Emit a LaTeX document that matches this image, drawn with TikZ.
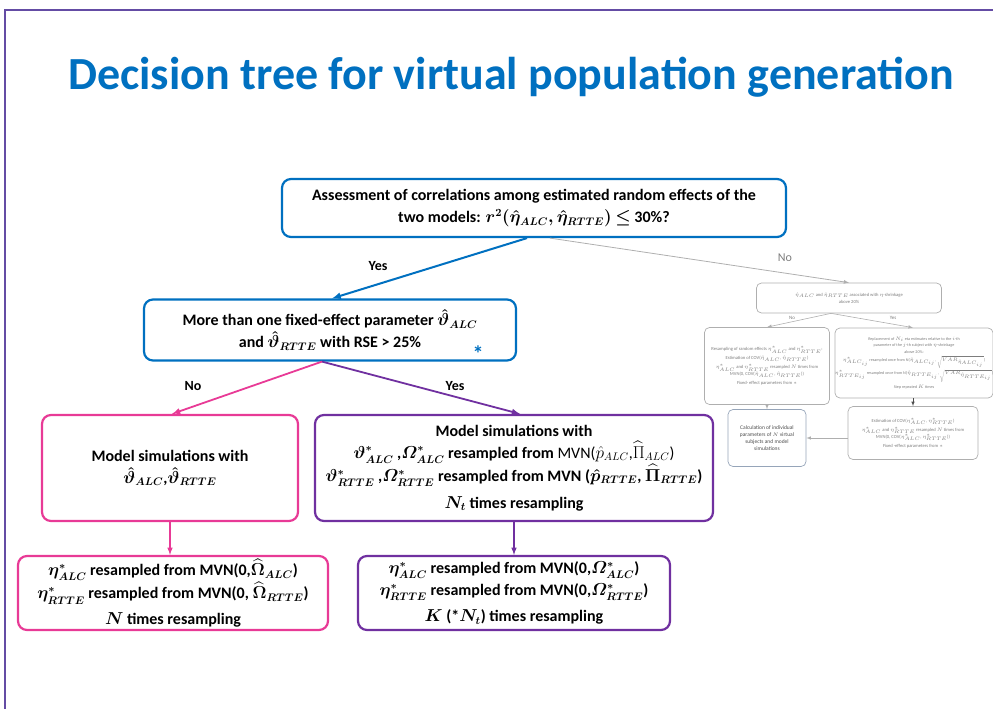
\documentclass[tikz,border=0pt]{standalone}
\usepackage{amsmath}
\usepackage{fontspec}
\setmainfont{Carlito}

\definecolor{titleblue}{RGB}{0,112,192}
\definecolor{simpink}{RGB}{232,58,150}
\definecolor{simpurple}{RGB}{112,48,160}
\definecolor{framepurple}{RGB}{100,76,164}
\definecolor{greyline}{RGB}{175,175,175}
\definecolor{greytext}{RGB}{125,125,125}
\definecolor{calcline}{RGB}{150,165,185}

\tikzset{
  bigbox/.style={draw,rounded corners=9pt,line width=2.2pt,align=center,inner sep=0pt,
    font=\fontsize{16}{22}\selectfont\bfseries\boldmath},
  greybox/.style={draw=greyline,rounded corners=5pt,line width=0.7pt,align=center,inner sep=0pt,
    text=greytext,font=\fontsize{4.6}{7}\selectfont},
  answer/.style={font=\fontsize{14}{16}\selectfont\bfseries},
  smallanswer/.style={text=greytext,font=\fontsize{5}{6}\selectfont},
}

\begin{document}
\begin{tikzpicture}[x=1pt,y=-1pt]
    \useasboundingbox (0,0) rectangle (993,709);
    \draw[framepurple,line width=1.5pt] (5,709) -- (5,10) -- (993,10);
    \node[text=titleblue,font=\fontsize{46}{54}\selectfont\bfseries] (title) at (511,77) {Decision tree for virtual population generation};

    \node[bigbox,draw=titleblue,minimum width=504pt,minimum height=58pt] (assess) at (534,208)
        {Assessment of correlations among estimated random effects of the\\two models: $r^2(\hat\eta_{ALC}, \hat\eta_{RTTE})$ $\leq$ 30\%?};
    \node[bigbox,draw=titleblue,minimum width=372pt,minimum height=61pt] (fixed) at (330,330)
        {More than one fixed-effect parameter $\hat\vartheta_{ALC}$\\and $\hat\vartheta_{RTTE}$ with RSE > 25\%};
    \node[text=titleblue,font=\fontsize{22}{22}\selectfont\bfseries] (star) at (478,354) {*};

    \node[bigbox,draw=simpink,minimum width=256pt,minimum height=106pt] (simfix) at (170,468)
        {Model simulations with\\$\hat\vartheta_{ALC}$,$\hat\vartheta_{RTTE}$};
    \node[bigbox,draw=simpurple,minimum width=398pt,minimum height=106pt] (simres) at (514,468)
        {Model simulations with\\
         $\vartheta^*_{ALC}$ ,$\varOmega^*_{ALC}$ resampled from {\mdseries\unboldmath MVN($\hat p_{ALC}$,$\widehat\Pi_{ALC}$)}\\
         $\vartheta^*_{RTTE}$ ,$\varOmega^*_{RTTE}$ resampled from MVN ($\hat p_{RTTE}$, $\widehat\Pi_{RTTE}$)\\[5pt]
         $N_t$ times resampling};
    \node[bigbox,draw=simpink,minimum width=310pt,minimum height=74pt] (etafix) at (173,593)
        {$\eta^*_{ALC}$ resampled from MVN(0,$\widehat\Omega_{ALC}$)\\
         $\eta^*_{RTTE}$ resampled from MVN(0, $\widehat\Omega_{RTTE}$)\\[4pt]
         $N$ times resampling};
    \node[bigbox,draw=simpurple,minimum width=312pt,minimum height=74pt] (etares) at (514,593)
        {$\eta^*_{ALC}$ resampled from MVN(0,$\varOmega^*_{ALC}$)\\
         $\eta^*_{RTTE}$ resampled from MVN(0,$\varOmega^*_{RTTE}$)\\[4pt]
         $K$ (*$N_t$) times resampling};

    % greyed-out branch
    \node[greybox,minimum width=185pt,minimum height=30pt] (shrink) at (849,298)
        {$\hat\eta_{ALC}$ and $\hat\eta_{RTTE}$ associated with $\eta$-shrinkage\\above 20\%};
    \node[greybox,minimum width=125pt,minimum height=77pt] (resamp) at (767,366)
        {Resampling of random effects $\eta^*_{ALC}$ and $\eta^*_{RTTE}$:\\[2pt]
         Estimation of COV($\hat\eta_{ALC}$, $\hat\eta_{RTTE}$)\\[2pt]
         $\eta^*_{ALC}$ and $\eta^*_{RTTE}$ resampled $N$ times from\\
         MVN(0, COV($\hat\eta_{ALC}$, $\hat\eta_{RTTE}$))\\[2pt]
         Fixed- effect parameters from $\ast$};
    \node[greybox,minimum width=152pt,minimum height=70pt,font=\fontsize{4.1}{6.4}\selectfont] (replace) at (914,363)
        {Replacement of $N_i$ eta estimates relative to the $i$-th\\
         parameter of the $j$-th subject with $\eta$-shrinkage\\
         above 20\%:\\[2pt]
         $\eta^*_{ALC_{ij}}$ resampled once from N($\hat\eta_{ALC_{ij}}$, $\sqrt{VAR_{\hat\eta_{ALC_{ij}}}}$)\\
         $\eta^*_{RTTE_{ij}}$ resampled once from N($\hat\eta_{RTTE_{ij}}$, $\sqrt{VAR_{\hat\eta_{RTTE_{ij}}}}$)\\[2pt]
         Step repeated $K$ times};
    \node[greybox,draw=calcline,text=black!70,minimum width=78pt,minimum height=57pt,font=\fontsize{5.5}{7}\selectfont] (calc) at (767,438)
        {Calculation of individual\\parameters of $N$ virtual\\subjects and model\\simulations};
    \node[greybox,minimum width=130pt,minimum height=53pt] (estim) at (913,433)
        {Estimation of COV($\eta^*_{ALC}$, $\eta^*_{RTTE}$)\\[2pt]
         $\eta^*_{ALC}$ and $\eta^*_{RTTE}$ resampled $N$ times from\\
         MVN(0, COV($\eta^*_{ALC}$, $\eta^*_{RTTE}$))\\[2pt]
         Fixed -effect parameters from $\ast$};

    \draw[-latex,titleblue,line width=2pt] ([xshift=-7pt]assess.south) -- ([xshift=2pt]fixed.north);
    \node[answer] (yes1) at (378,266) {Yes};
    \draw[-latex,greyline,line width=0.8pt] ([xshift=16pt]assess.south) -- (shrink.north);
    \node[text=greytext,font=\fontsize{12}{14}\selectfont] (no1) at (785,258) {No};

    \draw[-latex,simpink,line width=1.8pt] ([xshift=-8pt]fixed.south) -- ([xshift=2pt]simfix.north);
    \node[answer] (no2) at (193,386) {No};
    \draw[-latex,simpurple,line width=1.8pt] ([xshift=-8pt]fixed.south) -- ([xshift=6pt]simres.north);
    \node[answer] (yes2) at (455,386) {Yes};
    \draw[-latex,simpink,line width=1.5pt] (simfix.south) -- (simfix.south |- etafix.north);
    \draw[-latex,simpurple,line width=1.5pt] (simres.south) -- (etares.north);

    \draw[-latex,greyline,line width=0.6pt] ([xshift=-18pt]shrink.south) -- (resamp.north);
    \node[smallanswer] (no3) at (792,318) {No};
    \draw[-latex,greyline,line width=0.6pt] ([xshift=-18pt]shrink.south) -- ([xshift=-1pt]replace.north);
    \node[smallanswer] (yes3) at (893,318) {Yes};
    \draw[-latex,greyline,line width=0.6pt] (resamp.south) -- (calc.north);
    \draw[-latex,black!70,line width=0.6pt] ([xshift=-1pt]replace.south) -- ([xshift=-1pt]replace.south |- estim.north);
    \draw[-latex,greyline,line width=0.6pt] (estim.west |- calc.east) -- (calc.east);
\end{tikzpicture}
\end{document}
